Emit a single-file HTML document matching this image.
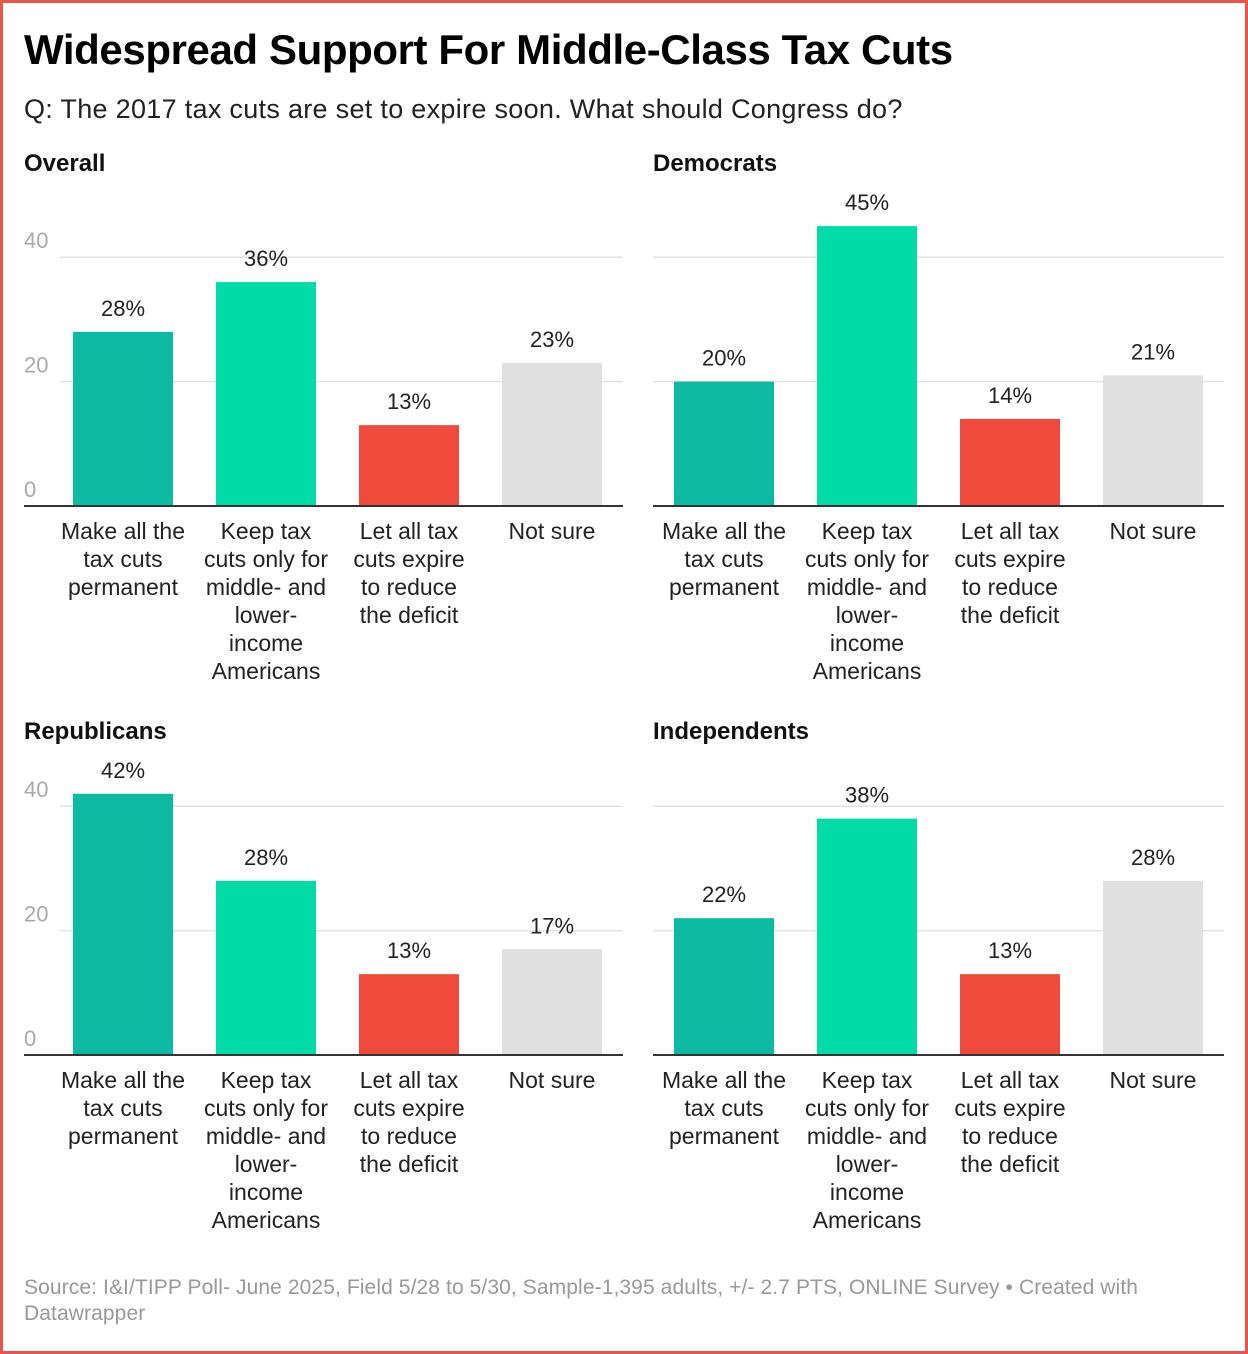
<!DOCTYPE html>
<html><head><meta charset="utf-8">
<style>
html,body{margin:0;padding:0;background:#fff;}
body{width:1248px;height:1354px;position:relative;overflow:hidden;font-family:"Liberation Sans",Roboto,sans-serif;}
.frame{position:absolute;left:0;top:0;width:1242px;height:1348px;border:3px solid #e5574b;}
h1{position:absolute;left:24px;top:26px;margin:0;font-size:42px;font-weight:bold;color:#000;letter-spacing:-0.4px;white-space:nowrap;}
.sub{position:absolute;left:24px;top:94px;font-size:27px;color:#222;white-space:nowrap;letter-spacing:0.3px;}
.foot{position:absolute;left:24px;top:1275px;font-size:21px;color:#999;line-height:26px;width:1140px;letter-spacing:0.1px;}
svg{position:absolute;left:0;top:0;}
</style></head><body>
<div class="frame"></div>
<h1>Widespread Support For Middle-Class Tax Cuts</h1>
<div class="sub">Q: The 2017 tax cuts are set to expire soon. What should Congress do?</div>
<svg id="chart" width="1248" height="1354"></svg>
<div class="foot">Source: I&amp;I/TIPP Poll- June 2025, Field 5/28 to 5/30, Sample-1,395 adults, +/- 2.7 PTS, ONLINE Survey • Created with Datawrapper</div>
<script>
const panels = ["Overall","Democrats","Republicans","Independents"];
const categories = [["Make all the","tax cuts","permanent"],["Keep tax","cuts only for","middle- and","lower-","income","Americans"],["Let all tax","cuts expire","to reduce","the deficit"],["Not sure"]];
const overallValues = [28,36,13,23];
const democratValues = [20,45,14,21];
const republicanValues = [42,28,13,17];
const independentValues = [22,38,13,28];
const seriesValues = [overallValues,democratValues,republicanValues,independentValues];
const yTicks = [0,20,40];
const colors = ["#0bbaa0","#00dba8","#ef4a3c","#e0e0e0"];
const NS="http://www.w3.org/2000/svg";
const svg=document.getElementById('chart');
function mk(tag,attrs,parent){const e=document.createElementNS(NS,tag);for(const k in attrs)e.setAttribute(k,attrs[k]);(parent||svg).appendChild(e);return e;}
const layout=[{x0:24,x1:623,base:506,bar0:73,title:163,axis:true},{x0:653,x1:1224,base:506,bar0:674,title:163,axis:false},{x0:24,x1:623,base:1055,bar0:73,title:731,axis:true},{x0:653,x1:1224,base:1055,bar0:674,title:731,axis:false}];
const unit=6.22, step=143, bw=100;
panels.forEach((p,pi)=>{
  const L=layout[pi];
  const y=v=>L.base-v*unit;
  const g=mk('g',{});
  
  
  const t=mk('text',{x:L.x0,y:L.title+8,'font-size':24,'font-weight':'bold',fill:'#111'},g);
  t.textContent=p;
  
  
  yTicks.forEach(v=>{
    if(v>0){const gl=mk('line',{x1:L.axis?60:L.x0,x2:L.x1,y1:y(v),y2:y(v),stroke:'#e3e3e3','stroke-width':1.5},g);
      
      }
    if(L.axis){const tl=mk('text',{x:24,y:y(v)-9,'font-size':22,fill:'#aaa'},g);tl.textContent=v;
      
      }
  });
  seriesValues[pi].forEach((v,i)=>{
    const bx=L.bar0+i*step;
    const r=mk('rect',{x:bx,y:y(v),width:bw,height:v*unit,fill:colors[i]},g);
    
    
    const vl=mk('text',{x:bx+bw/2,y:y(v)-16,'font-size':22,fill:'#222','text-anchor':'middle'},g);
    vl.textContent=v+'%';
    
    
    categories[i].forEach((ln,li)=>{
      const cl=mk('text',{x:bx+bw/2,y:L.base+33+li*28,'font-size':23,fill:'#222','text-anchor':'middle'},g);
      cl.textContent=ln;
      
      
    });
  });
  const ax=mk('line',{x1:L.x0,x2:L.x1,y1:L.base,y2:L.base,stroke:'#333','stroke-width':2},g);
  
  
});
</script>
</body></html>
